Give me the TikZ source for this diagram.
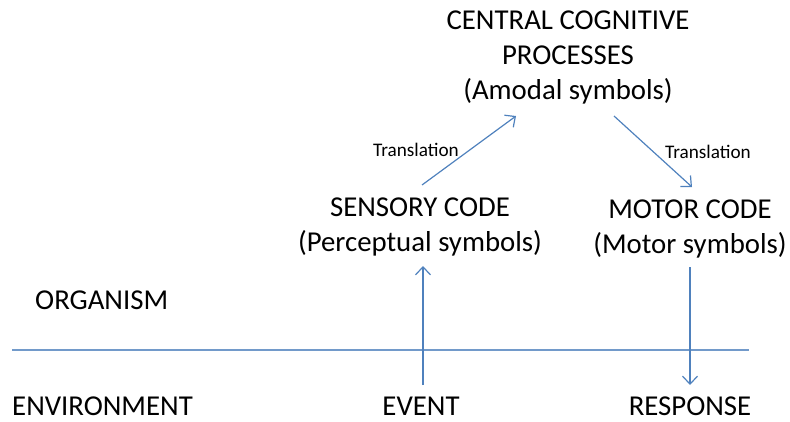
\documentclass[tikz,border=0pt]{standalone}
\usepackage{fontspec}
\setmainfont{Carlito}
\usetikzlibrary{arrows.meta}
\definecolor{linkblue}{HTML}{4F81BD}
\tikzset{
  label text/.style={font=\fontsize{28.8}{35}\selectfont, align=center, inner sep=0pt, text=black},
  word text/.style={font=\fontsize{28.8}{35}\selectfont, inner sep=0pt, text=black, text depth=0pt, anchor=base},
  small text/.style={font=\fontsize{19.2}{23}\selectfont, inner sep=0pt, text=black},
  link/.style={draw=linkblue, line width=1.2pt, -{Straight Barb[length=8pt, width=15pt, line width=1.2pt]}},
  rule/.style={draw=linkblue!80, line width=1.3pt}
}
\begin{document}
\begin{tikzpicture}[x=1pt, y=-1pt]
  \useasboundingbox (0,0) rectangle (790,421);
  % cognitive levels
  \node[label text] (central) at (568,57) {CENTRAL COGNITIVE\\PROCESSES\\(Amodal symbols)};
  \node[label text] (sensory) at (420,227) {SENSORY CODE\\(Perceptual symbols)};
  \node[label text] (motor) at (690,229) {MOTOR CODE\\(Motor symbols)};
  % organism / environment boundary
  \node[word text, anchor=base west] (organism) at (35,309) {ORGANISM};
  \node[word text, anchor=base west] (environment) at (12,415) {ENVIRONMENT};
  \node[word text] (event) at (421,415) {EVENT};
  \node[word text] (response) at (690,415) {RESPONSE};
  \coordinate (ruleL) at (12,350);
  \coordinate (ruleR) at (749,350);
  \draw[rule] (ruleL) -- (ruleR);
  % flow
  \coordinate (evtop) at (423,385);
  \coordinate (sensbot) at (423,266);
  \coordinate (sensup) at (422,185);
  \coordinate (centL) at (516,116);
  \coordinate (centR) at (614,116);
  \coordinate (motup) at (692,187);
  \coordinate (motbot) at (690,267);
  \coordinate (respup) at (690,385);
  \draw[link] (evtop) -- (sensbot);
  \draw[link] (sensup) -- (centL);
  \node[small text] (tr1) at (416,150) {Translation};
  \draw[link] (centR) -- (motup);
  \node[small text] (tr2) at (708,152) {Translation};
  \draw[link] (motbot) -- (respup);
\end{tikzpicture}
\end{document}
